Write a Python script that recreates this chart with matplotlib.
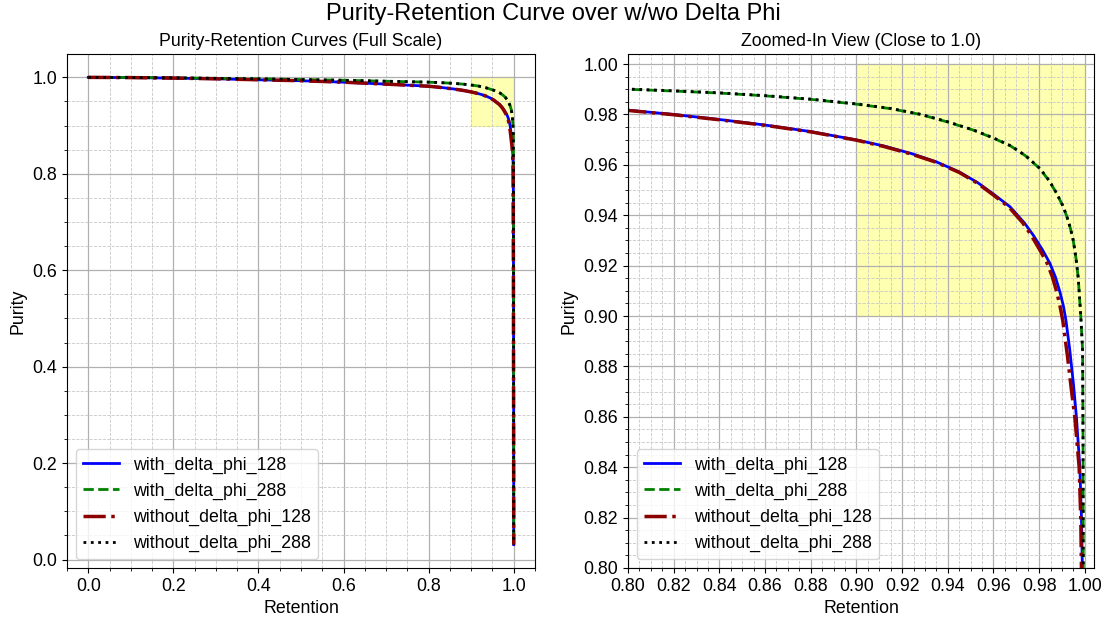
import matplotlib
matplotlib.use("Agg")
import matplotlib.pyplot as plt
from matplotlib.ticker import MultipleLocator
from matplotlib.patches import Rectangle

plt.rcParams['font.family'] = ['Liberation Sans', 'DejaVu Sans']

# Purity vs. retention for each model variant
ret_with_128 = [0.0, 0.1, 0.2, 0.3, 0.4, 0.5, 0.6, 0.7, 0.8, 0.82, 0.84, 0.86, 0.88, 0.90,
                0.912, 0.924, 0.935, 0.945, 0.953, 0.96, 0.9672, 0.9735, 0.9774, 0.9815,
                0.9847, 0.9871, 0.9891, 0.9906, 0.9917, 0.9934, 0.9950, 0.9963, 0.9978,
                0.9985, 0.9989, 0.9994, 0.9998, 1.0]
pur_with_128 = [1.000, 0.9995, 0.9985, 0.997, 0.995, 0.993, 0.990, 0.986, 0.9817, 0.9800,
                0.9780, 0.9758, 0.9732, 0.9699, 0.9675, 0.9645, 0.9612, 0.9572, 0.9530,
                0.9484, 0.9434, 0.9370, 0.9321, 0.9262, 0.9209, 0.9155, 0.9095, 0.9040,
                0.8984, 0.8865, 0.8730, 0.8600, 0.8400, 0.8203, 0.8005, 0.6000, 0.3000,
                0.031]

ret_with_288 = [0.0, 0.1, 0.2, 0.3, 0.4, 0.5, 0.6, 0.7, 0.8, 0.82, 0.84, 0.86, 0.88, 0.90,
                0.915, 0.928, 0.94, 0.9511, 0.96, 0.9675, 0.974, 0.9803, 0.9845, 0.9876,
                0.9902, 0.992, 0.9937, 0.9949, 0.9961, 0.9971, 0.9982, 0.9990, 0.9992,
                0.9993, 0.9996, 0.9998, 1.0]
pur_with_288 = [1.000, 0.9997, 0.999, 0.998, 0.997, 0.9955, 0.994, 0.992, 0.9900, 0.9893,
                0.9885, 0.9874, 0.9860, 0.9841, 0.9823, 0.9800, 0.9770, 0.9738, 0.9706,
                0.9675, 0.9636, 0.9585, 0.9535, 0.9487, 0.9440, 0.9398, 0.9347, 0.9300,
                0.9230, 0.9150, 0.9000, 0.8865, 0.8500, 0.8000, 0.6000, 0.3000, 0.031]

ret_without_128 = [0.0, 0.1, 0.2, 0.3, 0.4, 0.5, 0.6, 0.7, 0.8, 0.82, 0.84, 0.86, 0.88, 0.90,
                   0.912, 0.924, 0.935, 0.945, 0.953, 0.96, 0.9668, 0.9728, 0.9765, 0.9803,
                   0.9835, 0.9858, 0.9877, 0.9891, 0.9903, 0.9924, 0.9942, 0.9956, 0.9975,
                   0.9982, 0.9985, 0.9992, 0.9997, 1.0]
pur_without_128 = [1.000, 0.9995, 0.9985, 0.997, 0.995, 0.993, 0.990, 0.986, 0.9816, 0.9799,
                   0.9779, 0.9757, 0.9731, 0.9698, 0.9673, 0.9643, 0.9610, 0.9570, 0.9527,
                   0.9480, 0.9432, 0.9370, 0.9321, 0.9262, 0.9209, 0.9155, 0.9095, 0.9040,
                   0.8984, 0.8840, 0.8700, 0.8600, 0.8400, 0.8200, 0.8000, 0.6000, 0.3000,
                   0.031]

ret_without_288 = ret_with_288
pur_without_288 = [1.000, 0.9997, 0.999, 0.998, 0.997, 0.9955, 0.994, 0.992, 0.9901, 0.9894,
                   0.9886, 0.9875, 0.9861, 0.9842, 0.9824, 0.9801, 0.9771, 0.9739, 0.9707,
                   0.9676, 0.9637, 0.9586, 0.9536, 0.9488, 0.9441, 0.9399, 0.9348, 0.9302,
                   0.9232, 0.9152, 0.9003, 0.8870, 0.8505, 0.8005, 0.6000, 0.3000, 0.031]

series = [
    ("with_delta_phi_128", ret_with_128, pur_with_128, dict(color="blue", linestyle="-", linewidth=2)),
    ("with_delta_phi_288", ret_with_288, pur_with_288, dict(color="green", linestyle="--", linewidth=2)),
    ("without_delta_phi_128", ret_without_128, pur_without_128, dict(color="darkred", linestyle="-.", linewidth=2.5)),
    ("without_delta_phi_288", ret_without_288, pur_without_288, dict(color="black", linestyle=":", linewidth=2)),
]

FS = 12.8

fig = plt.figure(figsize=(11.07, 6.19), dpi=100)
W, H = 1107, 619
ax1 = fig.add_axes([67 / W, 1 - 568 / H, (535 - 67) / W, (568 - 54) / H])
ax2 = fig.add_axes([628 / W, 1 - 568 / H, (1094 - 628) / W, (568 - 54) / H])


def style(ax, major, minor):
    ax.xaxis.set_major_locator(MultipleLocator(major))
    ax.yaxis.set_major_locator(MultipleLocator(major))
    ax.xaxis.set_minor_locator(MultipleLocator(minor))
    ax.yaxis.set_minor_locator(MultipleLocator(minor))
    ax.grid(True, which="major", color="#b0b0b0", linestyle="-", linewidth=0.9)
    ax.grid(True, which="minor", color="#c8c8c8", linestyle="--", linewidth=0.6)
    ax.tick_params(which="both", labelsize=FS)
    ax.set_xlabel("Retention", fontsize=FS)
    ax.set_ylabel("Purity", fontsize=FS)
    for s in ax.spines.values():
        s.set_color("black")


for name, r, p, kw in series:
    ax1.plot(r, p, label=name, **kw)
ax1.add_patch(Rectangle((0.9, 0.9), 0.1, 0.1, color="yellow", alpha=0.3, zorder=0.5))
style(ax1, 0.2, 0.05)
ax1.set_title("Purity-Retention Curves (Full Scale)", fontsize=FS)
ax1.legend(loc="lower left", fontsize=FS)

for name, r, p, kw in series:
    ax2.plot(r, p, label=name, **kw)
ax2.add_patch(Rectangle((0.9, 0.9), 0.1, 0.1, color="yellow", alpha=0.3, zorder=0.5))
ax2.set_xlim(0.8, 1.004)
ax2.set_ylim(0.8, 1.004)
style(ax2, 0.02, 0.005)
ax2.set_title("Zoomed-In View (Close to 1.0)", fontsize=FS)
ax2.legend(loc="lower left", fontsize=FS)

fig.suptitle("Purity-Retention Curve over w/wo Delta Phi", fontsize=17, y=0.995)

fig.savefig("out.png", dpi=100)
